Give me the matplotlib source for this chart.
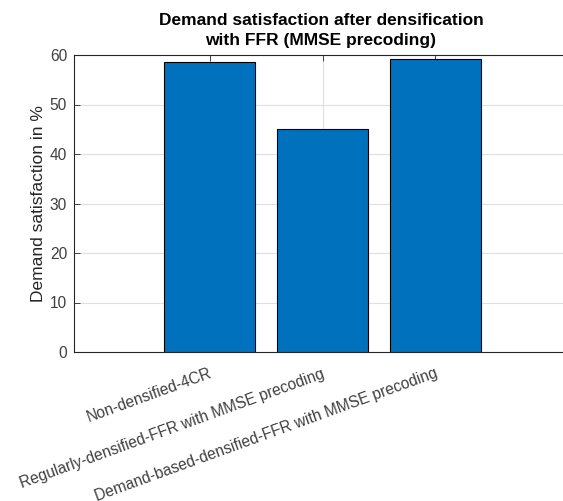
import numpy as np
import matplotlib
matplotlib.use("Agg")
import matplotlib.pyplot as pl
import matplotlib.transforms as mtransforms

# values
schemes = [
    "Non-densified-4CR",
    "Regularly-densified-FFR with MMSE precoding",
    "Demand-based-densified-FFR with MMSE precoding",
]
satisfaction = [58.6, 45.0, 59.2]
y_ticks = [0, 10, 20, 30, 40, 50, 60]

pl.rc("font", family=["Liberation Sans", "DejaVu Sans"], size=11.2)

fig = pl.figure(figsize=(5.63, 5.01), dpi=100)
ax = fig.add_axes([74 / 563, 149 / 501, 497 / 563, 297 / 501])

pos = np.arange(1, len(schemes) + 1)
ax.bar(pos, satisfaction, width=0.8, color="#0072BD", edgecolor="black",
       linewidth=0.8, zorder=3)

ax.set_xlim(-0.2, 4.2)
ax.set_ylim(0, 60)
ax.set_yticks(y_ticks)
ax.set_xticks(pos)
ax.set_xticklabels([])

# rotated category labels, placed a bit right of the ticks like the reference
offset = mtransforms.ScaledTranslation(4 / 100, -14 / 100, fig.dpi_scale_trans)
for p, name in zip(pos, schemes):
    ax.text(p, 0, name, rotation=20, ha="right", va="top", color="#404040",
            fontsize=11.2, transform=ax.get_xaxis_transform() + offset)

ax.grid(True, color="#dfdfdf", linewidth=0.8, zorder=0)
ax.set_axisbelow(True)
for s in ax.spines.values():
    s.set_color("#262626")
    s.set_linewidth(0.8)
ax.tick_params(direction="in", length=4, width=0.6, colors="#262626",
               labelcolor="#404040", top=True, right=False)
ax.tick_params(axis="y", pad=5)

ax.set_ylabel("Demand satisfaction in %", fontsize=12.5, color="#262626",
              labelpad=3)
ax.set_title("Demand satisfaction after densification\nwith FFR (MMSE precoding)",
             fontsize=12.5, fontweight="bold", color="#000000", pad=7,
             x=(321 - 74) / 497, linespacing=1.45)

fig.savefig("out.png", dpi=100)
